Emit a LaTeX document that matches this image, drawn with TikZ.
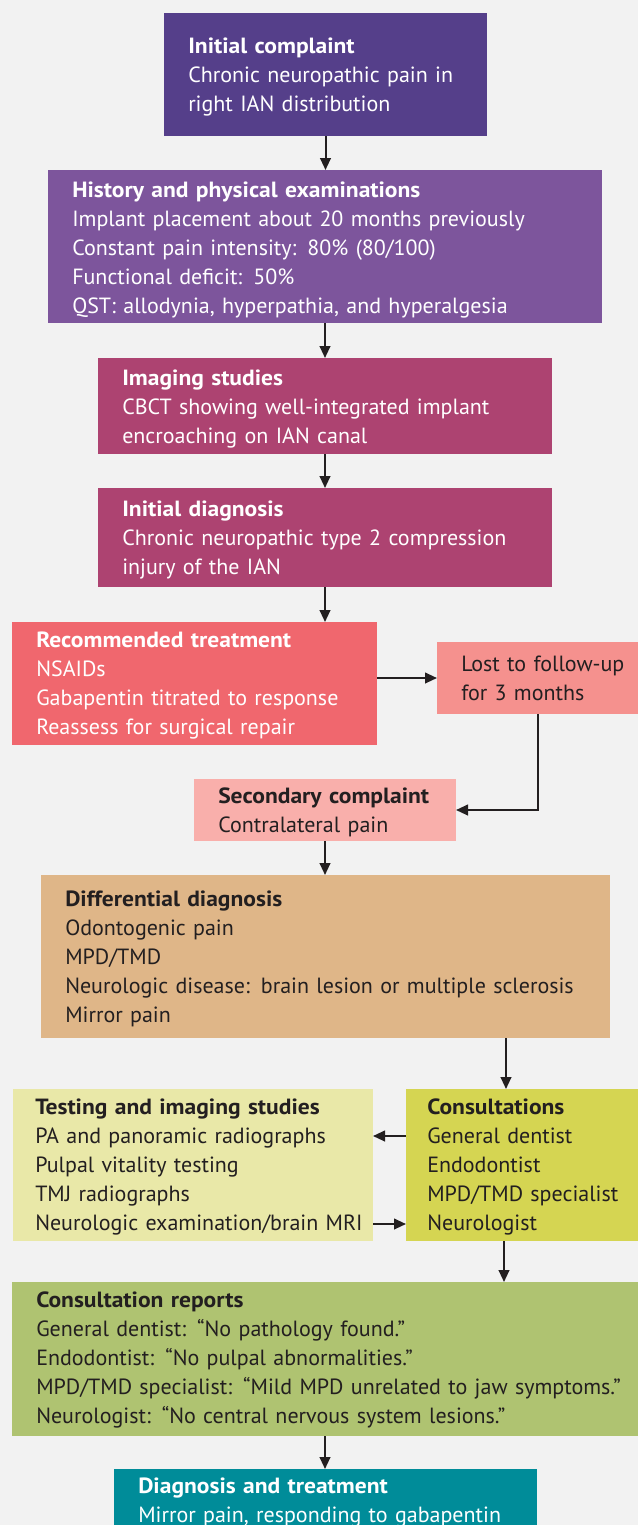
\documentclass[tikz,border=0pt]{standalone}
\usepackage{fontspec}
\setmainfont{PT Sans}[BoldFeatures={FakeStretch=1.07}]
\usetikzlibrary{arrows.meta,fit,calc}
\definecolor{bgc}{HTML}{F2F2F2}
\definecolor{cA}{HTML}{553F8A}
\definecolor{cB}{HTML}{7D559C}
\definecolor{cC}{HTML}{AD4371}
\definecolor{cD}{HTML}{F0676E}
\definecolor{cE}{HTML}{F5918E}
\definecolor{cF}{HTML}{F9AFAB}
\definecolor{cG}{HTML}{DFB688}
\definecolor{cH}{HTML}{E9E8A8}
\definecolor{cI}{HTML}{D5D552}
\definecolor{cJ}{HTML}{AFC371}
\definecolor{cK}{HTML}{008C99}
\definecolor{ink}{HTML}{231F20}
\begin{document}
\begin{tikzpicture}[x=0.75pt,y=-0.75pt,
  box/.style={inner sep=0pt, outer sep=0pt, draw=none},
  txt/.style={anchor=base west, inner sep=0pt, align=left, text width=470pt,
    font=\fontsize{16.5}{21.75}\selectfont},
  wtxt/.style={txt, text=white},
  dtxt/.style={txt, text=ink},
  arr/.style={line width=1.5pt, draw=ink, -{Triangle[length=9pt,width=8pt]}}]
\fill[bgc] (0,0) rectangle (638,1525);
\useasboundingbox (0,0) rectangle (638,1525);
% boxes
\node[box, fill=cA, fit={(164,13) (487,136)}] (b1) {};
\node[box, fill=cB, fit={(48,170) (602,323)}] (b2) {};
\node[box, fill=cC, fit={(98,358) (552,454)}] (b3) {};
\node[box, fill=cC, fit={(98,488) (552,587)}] (b4) {};
\node[box, fill=cD, fit={(12,622) (377,745)}] (b5) {};
\node[box, fill=cE, fit={(437,642) (638,714)}] (b6) {};
\node[box, fill=cF, fit={(194,779) (456,841)}] (b7) {};
\node[box, fill=cG, fit={(41,875) (610,1038)}] (b8) {};
\node[box, fill=cH, fit={(13,1089) (373,1241)}] (b9) {};
\node[box, fill=cI, fit={(406,1089) (638,1241)}] (b10) {};
\node[box, fill=cJ, fit={(12,1282) (638,1436)}] (b11) {};
\node[box, fill=cK, fit={(114,1469) (537,1540)}] (b12) {};
% texts
\node[wtxt] (t1) at (188,53) {\textbf{Initial complaint}\\Chronic neuropathic pain in\\right IAN distribution};
\node[wtxt] (t2) at (72,197) {\textbf{History and physical examinations}\\Implant placement about 20 months previously\\Constant pain intensity: 80\% (80/100)\\Functional deficit: 50\%\\QST: allodynia, hyperpathia, and hyperalgesia};
\node[wtxt] (t3) at (122,385) {\textbf{Imaging studies}\\CBCT showing well-integrated implant\\encroaching on IAN canal};
\node[wtxt] (t4) at (122,516) {\textbf{Initial diagnosis}\\Chronic neuropathic type 2 compression\\injury of the IAN};
\node[wtxt] (t5) at (36,647) {\textbf{Recommended treatment}\\NSAIDs\\Gabapentin titrated to response\\Reassess for surgical repair};
\node[dtxt] (t6) at (461,671) {Lost to follow-up\\for 3 months};
\node[dtxt] (t7) at (218,803) {\textbf{Secondary complaint}\\Contralateral pain};
\node[dtxt] (t8) at (65,906) {\textbf{Differential diagnosis}\\Odontogenic pain\\MPD/TMD\\Neurologic disease: brain lesion or multiple sclerosis\\Mirror pain};
\node[dtxt] (t9) at (35,1114) {\textbf{Testing and imaging studies}\\PA and panoramic radiographs\\Pulpal vitality testing\\TMJ radiographs\\Neurologic examination/brain MRI};
\node[dtxt] (t10) at (427,1114) {\textbf{Consultations}\\General dentist\\Endodontist\\MPD/TMD specialist\\Neurologist};
\node[dtxt] (t11) at (36,1307) {\textbf{Consultation reports}\\General dentist: “No pathology found.”\\Endodontist: “No pulpal abnormalities.”\\MPD/TMD specialist: “Mild MPD unrelated to jaw symptoms.”\\Neurologist: “No central nervous system lesions.”};
\node[wtxt] (t12) at (138,1493) {\textbf{Diagnosis and treatment}\\Mirror pain, responding to gabapentin};
% helper coordinates
\coordinate (xa) at (506,0);
\coordinate (xb) at (504,0);
\coordinate (ya) at (0,1136);
\coordinate (yb) at (0,1224);
% connectors
\draw[arr] (b1.south) -- (b1.south |- b2.north);
\draw[arr] (b2.south) -- (b2.south |- b3.north);
\draw[arr] (b3.south) -- (b3.south |- b4.north);
\draw[arr] (b4.south) -- (b4.south |- b5.north);
\draw[arr] (b6.west -| b5.east) -- (b6.west);
\draw[arr] (b6.south) |- (b7.east);
\draw[arr] (b7.south) -- (b7.south |- b8.north);
\draw[arr] (b8.south -| xa) -- (b10.north -| xa);
\draw[arr] (b10.west |- ya) -- (b9.east |- ya);
\draw[arr] (b9.east |- yb) -- (b10.west |- yb);
\draw[arr] (b10.south -| xb) -- (b11.north -| xb);
\draw[arr] (b11.south) -- (b11.south |- b12.north);
\end{tikzpicture}
\end{document}
